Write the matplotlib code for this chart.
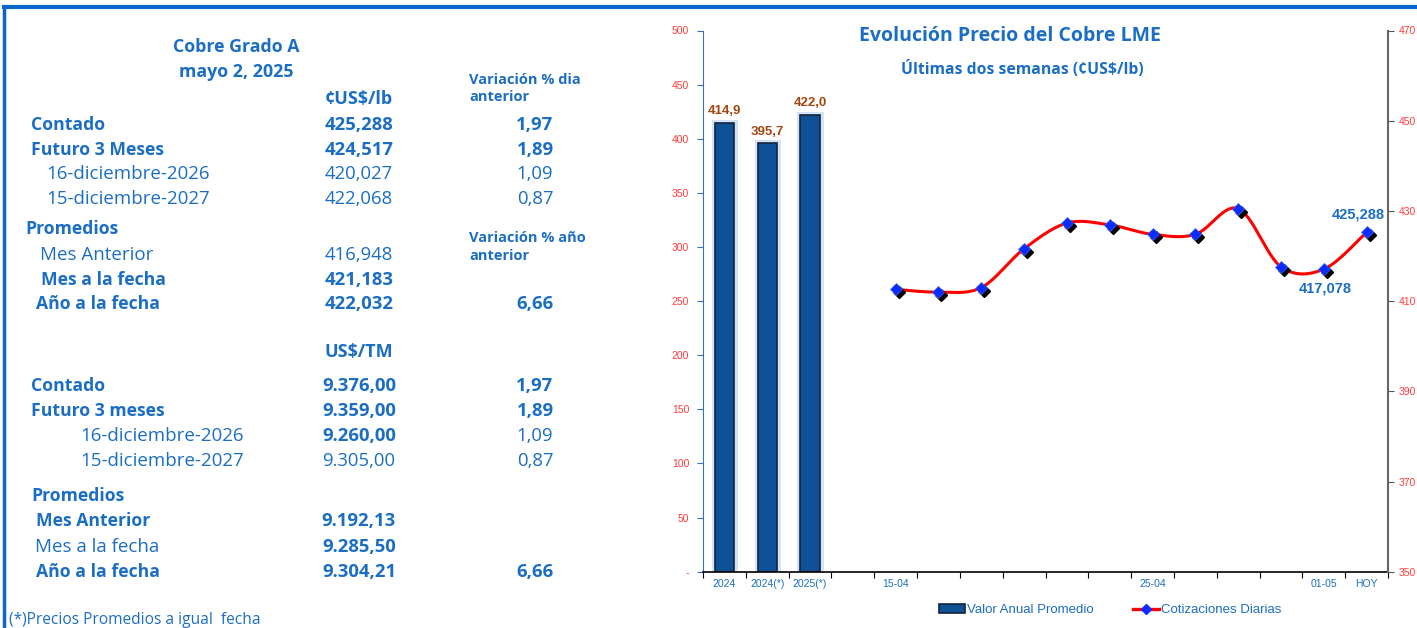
import numpy as np
import matplotlib
matplotlib.use("Agg")
import matplotlib.pyplot as plt
from matplotlib.transforms import ScaledTranslation
from matplotlib.patches import Patch
from matplotlib.lines import Line2D

# ---------------- data ----------------
bar_labels = ["2024", "2024(*)", "2025(*)"]
bar_values = [414.9, 395.7, 422.0]

daily_labels = ["15-04", "", "", "", "", "", "25-04", "", "", "", "01-05", "HOY"]
daily_values = [412.6, 412.0, 413.0, 421.6, 427.3, 426.9, 424.8, 424.8, 430.5, 417.6, 417.078, 425.288]
daily_point_labels = {10: "417,078", 11: "425,288"}

# table (¢US$/lb)
lb_rows = ["Contado", "Futuro 3 Meses", "16-diciembre-2026", "15-diciembre-2027"]
lb_values = ["425,288", "424,517", "420,027", "422,068"]
lb_var = ["1,97", "1,89", "1,09", "0,87"]
lb_prom_rows = ["Mes Anterior", "Mes a la fecha", "Año a la fecha"]
lb_prom_values = ["416,948", "421,183", "422,032"]
lb_prom_var = ["", "", "6,66"]

tm_rows = ["Contado", "Futuro 3 meses", "16-diciembre-2026", "15-diciembre-2027"]
tm_values = ["9.376,00", "9.359,00", "9.260,00", "9.305,00"]
tm_var = ["1,97", "1,89", "1,09", "0,87"]
tm_prom_rows = ["Mes Anterior", "Mes a la fecha", "Año a la fecha"]
tm_prom_values = ["9.192,13", "9.285,50", "9.304,21"]
tm_prom_var = ["", "", "6,66"]

# ---------------- style ----------------
W, H = 1417, 628
BLUE = "#1b6ec4"
BAR = "#0f5196"
RED_T = "#ff3b3b"
BROWN = "#a3460f"
TFONT = ["Open Sans", "DejaVu Sans"]
AFONT = ["Liberation Sans", "DejaVu Sans"]

fig = plt.figure(figsize=(W / 100, H / 100), dpi=100)
fig.patch.set_facecolor("white")


def px(x, y):
    return x / W, 1 - y / H


def t(x, y, s, bold=False, ha="left", size=None, family=TFONT, color=BLUE):
    if size is None:
        size = 12.7 if bold else 13.5
    fig.text(*px(x, y), s, ha=ha, va="center", fontsize=size,
             fontweight="bold" if bold else "normal", family=family, color=color)


# border lines
fig.add_artist(Line2D([4 / W, 1], [1 - 7 / H, 1 - 7 / H], color="#0a66cc", lw=3,
                      transform=fig.transFigure))
fig.add_artist(Line2D([4 / W, 4 / W], [0, 1 - 7 / H], color="#0a66cc", lw=2.5,
                      transform=fig.transFigure))

# ---------------- table ----------------
t(236, 47, "Cobre Grado A", True, "center", 12.8)
t(236, 72, "mayo 2, 2025", True, "center", 12.8)
t(359, 99, "¢US$/lb", True, "center", 13)
t(469, 80, "Variación % dia", True, "left", 10.5)
t(469, 97, "anterior", True, "left", 10.5)

NUMX, VARX = 359, 535
NUMS = 13.3
ys = [125, 150, 174, 199]
bold_lb = [(True, True, True), (True, True, True), (False, False, False), (False, False, False)]
xs_lb = [31, 31, 46, 46]
for i in range(4):
    b = bold_lb[i]
    t(xs_lb[i], ys[i], lb_rows[i], b[0])
    t(NUMX, ys[i], lb_values[i], b[1], "center", NUMS)
    t(VARX, ys[i], lb_var[i], b[2], "center", NUMS)

t(25, 229, "Promedios", True)
t(469, 238, "Variación % año", True, "left", 10.5)
t(469, 256, "anterior", True, "left", 10.5)
ys = [255, 280, 304]
xs = [40, 41, 36]
bb = [False, True, True]
for i in range(3):
    t(xs[i], ys[i], lb_prom_rows[i], bb[i])
    t(NUMX, ys[i], lb_prom_values[i], bb[i], "center", NUMS)
    if lb_prom_var[i]:
        t(VARX, ys[i], lb_prom_var[i], True, "center", NUMS)

t(359, 352, "US$/TM", True, "center", 13)
ys = [386, 411, 436, 461]
xs_tm = [31, 31, 80, 80]
bold_tm = [(True, True, True), (True, True, True), (False, True, False), (False, False, False)]
for i in range(4):
    b = bold_tm[i]
    t(xs_tm[i], ys[i], tm_rows[i], b[0])
    t(NUMX, ys[i], tm_values[i], b[1], "center", NUMS)
    t(VARX, ys[i], tm_var[i], b[2], "center", NUMS)

t(31, 496, "Promedios", True)
ys = [521, 547, 572]
xs = [36, 35, 36]
bb = [True, False, True]
for i in range(3):
    t(xs[i], ys[i], tm_prom_rows[i], bb[i])
    t(NUMX, ys[i], tm_prom_values[i], True, "center", NUMS)
    if tm_prom_var[i]:
        t(VARX, ys[i], tm_prom_var[i], True, "center", NUMS)

t(9, 620, "(*)Precios Promedios a igual  fecha", False, "left", 11.2)

# ---------------- chart ----------------
left, right, top, bottom = 703, 1388, 30.5, 571.7
ax = fig.add_axes([left / W, 1 - bottom / H, (right - left) / W, (bottom - top) / H])
ax2 = ax.twinx()
ax.set_zorder(1)
ax2.set_zorder(2)
ax.patch.set_visible(False)
ax2.patch.set_visible(False)

categories = bar_labels + [""] + daily_labels
n = len(categories)
ax.set_xlim(-0.5, n - 0.5)
ax.set_ylim(0, 500)
ax2.set_ylim(350, 470)

bx = np.arange(len(bar_values))
# glow
ax.bar(bx, bar_values, width=0.45, color=BAR, edgecolor="#d3e4f8", linewidth=5, zorder=1)
ax.bar(bx, bar_values, width=0.45, color=BAR, edgecolor="#14243c", linewidth=1.2, zorder=2)
for x, v in zip(bx, bar_values):
    ax.annotate(f"{v:.1f}".replace(".", ","), (x, v), xytext=(0, 4), textcoords="offset points",
                ha="center", va="bottom", fontsize=9.5, fontweight="bold", family=AFONT,
                color=BROWN)

# smooth line (Excel-like Bezier through points)
dx = np.arange(len(daily_values)) + len(bar_values) + 1
dy = np.array(daily_values)
P = np.column_stack([dx, dy])
curve = []
for i in range(len(P) - 1):
    p0 = P[i - 1] if i > 0 else P[i]
    p1, p2 = P[i], P[i + 1]
    p3 = P[i + 2] if i + 2 < len(P) else P[i + 1]
    c1 = p1 + (p2 - p0) / 6
    c2 = p2 - (p3 - p1) / 6
    tt = np.linspace(0, 1, 30)[:, None]
    seg = ((1 - tt) ** 3) * p1 + 3 * ((1 - tt) ** 2) * tt * c1 + 3 * (1 - tt) * tt ** 2 * c2 + tt ** 3 * p2
    curve.append(seg)
curve = np.vstack(curve)
ax2.plot(curve[:, 0], curve[:, 1], color="red", lw=2.2, zorder=3, solid_capstyle="round")
shadow = ax2.transData + ScaledTranslation(3 / 100, -3 / 100, fig.dpi_scale_trans)
ax2.plot(dx, dy, ls="none", marker="D", ms=6.5, color="black", transform=shadow, zorder=4)
ax2.plot(dx, dy, ls="none", marker="D", ms=6.5, color="#0a2cff", markeredgecolor="#3a5bff",
         mew=0.5, zorder=5)
for i, s in daily_point_labels.items():
    if i == len(dy) - 1:
        ax2.annotate(s, (dx[i], dy[i]), xytext=(-6, 8), textcoords="offset points",
                     ha="center", va="bottom", fontsize=10.5, fontweight="bold",
                     family=AFONT, color=BLUE, zorder=6)
    else:
        ax2.annotate(s, (dx[i], dy[i]), xytext=(1, -9), textcoords="offset points",
                     ha="center", va="top", fontsize=10.5, fontweight="bold",
                     family=AFONT, color=BLUE, zorder=6)

# axes styling
ax.set_xticks(np.arange(n + 1) - 0.5)
ax.set_xticklabels([])
ax.set_xticks(np.arange(n), minor=True)
ax.set_xticklabels(categories, minor=True, fontsize=7.5, color=BLUE, family=AFONT)
ax.tick_params(axis="x", which="major", length=4, direction="out", color="black")
ax.tick_params(axis="x", which="minor", length=0, pad=5)

yt = np.arange(0, 501, 50)
ax.set_yticks(yt)
ax.set_yticklabels(["-"] + [str(v) for v in yt[1:]], fontsize=7.5, color=RED_T, family=AFONT)
ax.tick_params(axis="y", length=4, color="#3a6fc0", pad=6)

yt2 = np.arange(350, 471, 20)
ax2.set_yticks(yt2)
ax2.set_yticklabels([str(v) for v in yt2], fontsize=7.5, color=RED_T, family=AFONT)
ax2.tick_params(axis="y", length=4, color="#555555", pad=4)

for a in (ax, ax2):
    a.spines["top"].set_visible(False)
ax.spines["left"].set_color("#3a6fc0")
ax.spines["bottom"].set_color("black")
ax.spines["bottom"].set_linewidth(1.2)
ax2.spines["right"].set_color("#666666")
ax2.spines["right"].set_linewidth(1.5)
ax2.spines["left"].set_visible(False)
ax2.spines["bottom"].set_visible(False)
ax.spines["right"].set_visible(False)

fig.text(*px(1010, 36), "Evolución Precio del Cobre LME", ha="center", va="center",
         fontsize=14, fontweight="bold", family=TFONT, color=BLUE)
fig.text(*px(1022, 70), "Últimas dos semanas (¢US$/lb)", ha="center", va="center",
         fontsize=11.3, fontweight="bold", family=TFONT, color=BLUE)

# legend
handles = [Patch(facecolor=BAR, edgecolor="#14243c", linewidth=1.2),
           Line2D([], [], color="red", lw=2.4, marker="D", ms=5, mfc="#0a2cff", mec="#0a2cff")]
leg = fig.legend(handles, ["Valor Anual Promedio", "Cotizaciones Diarias"], ncol=2,
                 loc="center", bbox_to_anchor=px(1110, 610), frameon=False,
                 prop={"family": AFONT, "size": 9.5}, handlelength=2.0, handletextpad=0.1,
                 columnspacing=3.0, handleheight=0.6)
for txt in leg.get_texts():
    txt.set_color(BLUE)

fig.savefig("out.png", dpi=100, facecolor="white")
